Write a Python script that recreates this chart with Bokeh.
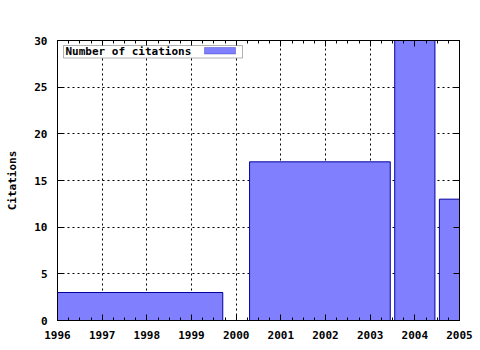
from bokeh.plotting import figure
from bokeh.models import Range1d, FixedTicker, LinearAxis, BoxAnnotation, Label, CustomJSTickFormatter
from bokeh.embed import file_html
from bokeh.resources import INLINE

# Data
bar_left = [1996.0, 2000.3, 2003.55, 2004.55]
bar_right = [1999.7, 2003.45, 2004.45, 2005.45]
citations = [3, 17, 30, 13]
x_ticks = [1996, 1997, 1998, 1999, 2000, 2001, 2002, 2003, 2004, 2005]
y_ticks = [0, 5, 10, 15, 20, 25, 30]
series_name = "Number of citations"

FONT = "DejaVu Sans Mono"
FS = "11px"

p = figure(width=480, height=350, output_backend="svg", toolbar_location=None,
           x_range=Range1d(1996, 2005), y_range=Range1d(0, 30),
           min_border_left=57, min_border_right=21, min_border_top=40, min_border_bottom=30)
p.outline_line_color = "black"
p.outline_line_width = 1

minor = [1996 + i * 0.25 for i in range(37)]
xt = FixedTicker(ticks=x_ticks, minor_ticks=minor)
yt = FixedTicker(ticks=y_ticks)

p.quad(left=bar_left, right=bar_right, bottom=0, top=citations,
       fill_color="#8080ff", line_color="#0000a0", line_width=1)

for ax in (p.xaxis[0], p.yaxis[0]):
    ax.axis_line_color = "black"
    ax.major_tick_in = 6
    ax.major_tick_out = 0
    ax.minor_tick_in = 3
    ax.minor_tick_out = 0
    ax.major_label_text_font = FONT
    ax.major_label_text_font_style = "bold"
    ax.major_label_text_font_size = FS
    ax.major_label_text_color = "black"

p.xaxis[0].ticker = xt
p.yaxis[0].ticker = yt
p.yaxis[0].minor_tick_line_color = None
p.xaxis[0].major_label_standoff = 10
p.yaxis[0].major_label_standoff = 10
p.yaxis[0].axis_label = "Citations"
p.yaxis[0].axis_label_text_font = FONT
p.yaxis[0].axis_label_text_font_style = "bold"
p.yaxis[0].axis_label_text_font_size = FS
p.yaxis[0].axis_label_text_color = "black"
p.yaxis[0].axis_label_standoff = 12

blank = CustomJSTickFormatter(code="return ''")
top_ax = LinearAxis(ticker=xt, formatter=blank, major_tick_in=6, major_tick_out=0,
                    minor_tick_in=3, minor_tick_out=0, axis_line_color="black",
                    major_label_standoff=0)
right_ax = LinearAxis(ticker=yt, formatter=CustomJSTickFormatter(code="return ''"),
                      major_tick_in=6, major_tick_out=0,
                      minor_tick_line_color=None, axis_line_color="black",
                      major_label_standoff=0)
p.add_layout(top_ax, "above")
p.add_layout(right_ax, "right")

p.xgrid.ticker = xt
p.ygrid.ticker = yt
for g in (p.xgrid[0], p.ygrid[0]):
    g.grid_line_color = "black"
    g.grid_line_dash = "2 3"
    g.grid_line_width = 1

# legend (gnuplot style: text then sample on the right)
def px_x(px):
    return 1996 + (px - 57) * 9 / 402.0

def px_y(py):
    return 30 - (py - 40) * 30 / 280.0

p.add_layout(BoxAnnotation(left=px_x(63), right=px_x(242), top=px_y(45), bottom=px_y(57.5),
                           fill_color="white", fill_alpha=1, line_color="black", line_width=1))
p.add_layout(BoxAnnotation(left=px_x(204), right=px_x(235), top=px_y(47), bottom=px_y(53.5),
                           fill_color="#8080ff", fill_alpha=1, line_color="#0000a0", line_width=1))
p.add_layout(Label(x=px_x(65), y=px_y(51), text=series_name, text_font=FONT,
                   text_font_style="bold", text_font_size=FS, text_baseline="middle",
                   text_color="black"))

open("out.html", "w").write(file_html(p, INLINE))
